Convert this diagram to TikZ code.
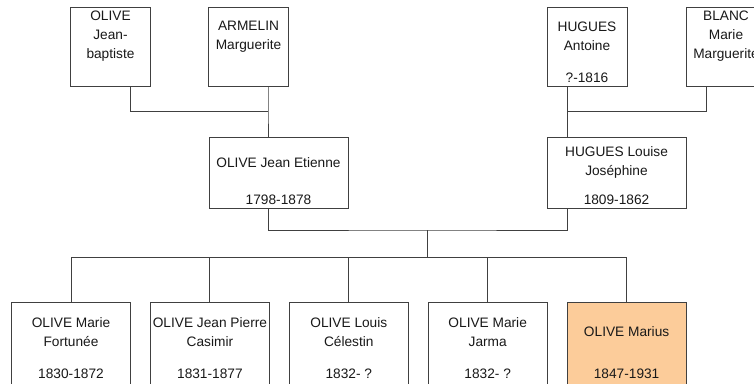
\documentclass[tikz,border=0pt]{standalone}
\usepackage{fontspec}
\setmainfont{Liberation Sans}
\usepackage{tikz}
\definecolor{TreeLine}{HTML}{404040}
\definecolor{TreePeach}{HTML}{FCCC9A}

\begin{document}
\begin{tikzpicture}[x=1pt,y=-1pt,
  person/.style={draw=TreeLine,line width=1pt,inner sep=0pt},
  gp/.style={person,fill=white,minimum width=80,minimum height=79},
  par/.style={person,fill=white,minimum width=139,minimum height=71},
  kid/.style={person,minimum width=119,minimum height=82},
  txt/.style={font=\fontsize{13.7}{19}\selectfont,align=center,inner sep=0pt,text=black!90},
  link/.style={draw=TreeLine,line width=1pt}]
\useasboundingbox (0,0) rectangle (754,383);
\clip (0,0) rectangle (754,383);
% grandparents
\node[gp] (jb) at (110.5,46.5) {};\node[txt] (jb-n) at ([yshift=10]jb.center) {OLIVE\\Jean-\\baptiste};
\node[gp] (am) at (248.5,46.5) {};\node[txt] (am-n) at ([yshift=10]am.center) {ARMELIN\\Marguerite};
\node[gp] (ha) at (587,46.5) {};\node[txt] (ha-n) at ([yshift=10]ha.center) {HUGUES\\Antoine};
\node[txt] (ha-d) at ([yshift=9]ha.south) {?-1816};
\node[gp] (bm) at (726,46.5) {};\node[txt] (bm-n) at ([yshift=10]bm.center) {BLANC\\Marie\\Marguerite};
% parents
\node[par] (je) at (278.5,172.5) {};\node[txt] (je-n) at ([yshift=10]je.center) {OLIVE Jean Etienne};
\node[txt] (je-d) at ([yshift=9]je.south) {1798-1878};
\node[par] (hl) at (616.5,172.5) {};\node[txt] (hl-n) at ([yshift=10]hl.center) {HUGUES Louise\\Joséphine};
\node[txt] (hl-d) at ([yshift=9]hl.south) {1809-1862};
% children
\foreach \i/\fc/\nm/\dt in {1/white/{OLIVE Marie\\Fortunée}/1830-1872,
    2/white/{OLIVE Jean Pierre\\Casimir}/1831-1877,
    3/white/{OLIVE Louis\\Célestin}/1832- ?,
    4/white/{OLIVE Marie\\Jarma}/1832- ?,
    5/TreePeach/{OLIVE Marius}/1847-1931}{
  \node[kid,fill=\fc] (c\i) at ({71+138.9*(\i-1)},343) {};
  \node[txt] (c\i-n) at ([yshift=11]c\i.center) {\nm};
  \node[txt] (c\i-d) at ([yshift=11]c\i.south) {\dt};
}
% links
\coordinate (tl) at (268,111);\coordinate (tr) at (567.5,111);
\coordinate (m) at (427,230);\coordinate (k) at (427,257);
\draw[link] ([xshift=20]jb.south) |- (tl);
\draw[link] ([xshift=19.5]am.south) -- (tl) -- ([xshift=-10.5]je.north);
\draw[link] ([xshift=-19.5]ha.south) -- (tr) -- ([xshift=-49]hl.north);
\draw[link] ([xshift=-20]bm.south) |- (tr);
\draw[link] ([xshift=-10.5]je.south) |- (m) -| ([xshift=-49]hl.south);
\draw[link] (m) -- (k);
\draw[link] (c1.north |- k) -- (c5.north |- k);
\foreach \i in {1,...,5} \draw[link] (c\i.north) -- (c\i.north |- k);
\end{tikzpicture}
\end{document}
